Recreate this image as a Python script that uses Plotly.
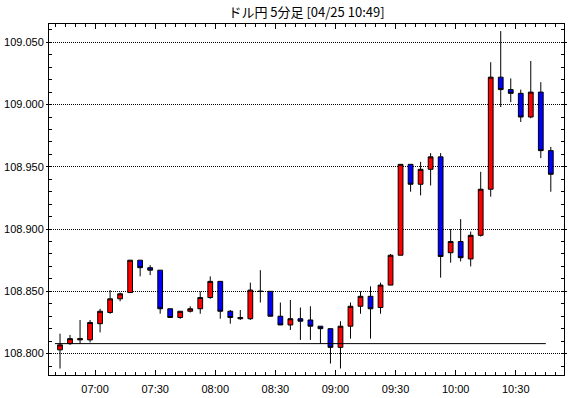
import plotly.graph_objects as go
import pandas as pd

TITLE = "ドル円 5分足 [04/25 10:49]"
DATE = "2019-04-25"
START_TIME = "06:40"
N_BARS = 50

opens = [108.803, 108.808, 108.811, 108.811, 108.824, 108.833, 108.844, 108.849, 108.875, 108.869,
         108.867, 108.836, 108.829, 108.834, 108.836, 108.845, 108.858, 108.834, 108.828, 108.828,
         108.850, 108.850, 108.830, 108.823, 108.828, 108.827, 108.822, 108.820, 108.805, 108.822,
         108.838, 108.846, 108.837, 108.855, 108.879, 108.952, 108.936, 108.948, 108.958, 108.881,
         108.890, 108.876, 108.895, 108.932, 109.022, 109.012, 109.009, 108.990, 109.010, 108.963]
highs = [108.816, 108.815, 108.827, 108.827, 108.836, 108.851, 108.849, 108.875, 108.875, 108.871,
         108.867, 108.836, 108.834, 108.838, 108.850, 108.862, 108.858, 108.835, 108.835, 108.857,
         108.867, 108.850, 108.841, 108.843, 108.837, 108.838, 108.822, 108.820, 108.826, 108.841,
         108.850, 108.854, 108.857, 108.880, 108.952, 108.952, 108.954, 108.961, 108.961, 108.900,
         108.908, 108.898, 108.946, 109.034, 109.059, 109.021, 109.012, 109.035, 109.018, 108.966]
lows = [108.788, 108.807, 108.808, 108.809, 108.817, 108.832, 108.842, 108.849, 108.862, 108.863,
        108.832, 108.829, 108.828, 108.833, 108.832, 108.844, 108.828, 108.824, 108.827, 108.827,
        108.841, 108.830, 108.823, 108.819, 108.811, 108.811, 108.808, 108.792, 108.788, 108.812,
        108.832, 108.812, 108.832, 108.855, 108.879, 108.930, 108.927, 108.935, 108.861, 108.873,
        108.874, 108.870, 108.894, 108.926, 108.998, 109.002, 108.986, 108.989, 108.957, 108.930]
closes = [108.807, 108.812, 108.812, 108.825, 108.834, 108.844, 108.848, 108.875, 108.869, 108.867,
          108.836, 108.829, 108.834, 108.836, 108.845, 108.858, 108.834, 108.829, 108.829, 108.851,
          108.850, 108.830, 108.823, 108.828, 108.826, 108.822, 108.820, 108.805, 108.822, 108.838,
          108.846, 108.836, 108.855, 108.879, 108.952, 108.936, 108.948, 108.958, 108.878, 108.890,
          108.877, 108.895, 108.932, 109.022, 109.012, 109.009, 108.990, 109.010, 108.963, 108.944]

REF_PRICE = 108.808

Y_TICKS = [108.800, 108.850, 108.900, 108.950, 109.000, 109.050]
Y_TICK_LABELS = ["108.800", "108.850", "108.900", "108.950", "109.000", "109.050"]
X_TICK_TIMES = ["07:00", "07:30", "08:00", "08:30", "09:00", "09:30", "10:00", "10:30"]

times = pd.date_range(f"{DATE} {START_TIME}", periods=N_BARS, freq="5min")
x_ticks = [pd.Timestamp(f"{DATE} {t}") for t in X_TICK_TIMES]

fig = go.Figure()
fig.add_trace(go.Candlestick(
    x=times, open=opens, high=highs, low=lows, close=closes,
    xperiod=300000, xperiodalignment="middle",
    increasing=dict(fillcolor="#ff0000", line=dict(color="black", width=1)),
    decreasing=dict(fillcolor="#0000ff", line=dict(color="black", width=1)),
    whiskerwidth=0, showlegend=False, hoverinfo="skip",
))
fig.add_trace(go.Scatter(
    x=[times[0], times[-1]], y=[REF_PRICE, REF_PRICE], mode="lines",
    line=dict(color="black", width=1), showlegend=False, hoverinfo="skip",
))

tick_font = dict(family="Liberation Sans", size=11, color="black")

fig.update_layout(
    width=570, height=398,
    margin=dict(l=49, r=6, t=24, b=23),
    paper_bgcolor="white", plot_bgcolor="white",
    boxgap=0.32,
    title=dict(text=TITLE, font=dict(family="Noto Sans CJK JP", size=13, color="black"),
               x=0.5, xref="paper", xanchor="center", y=1 - 12 / 398, yref="container",
               yanchor="middle"),
    xaxis=dict(
        range=[pd.Timestamp(f"{DATE} 06:37:00"), pd.Timestamp(f"{DATE} 10:54:05")],
        rangeslider=dict(visible=False), automargin=False,
        tickvals=x_ticks, tickformat="%H:%M", tickfont=tick_font,
        ticks="inside", ticklen=5, tickcolor="black", tickwidth=1,
        minor=dict(dtick=300000, tick0=f"{DATE} 07:00", ticks="inside", ticklen=3,
                   tickcolor="black", tickwidth=1, showgrid=False),
        showline=True, linecolor="black", linewidth=1, mirror="ticks",
        showgrid=False, zeroline=False, ticklabelstandoff=4,
    ),
    yaxis=dict(
        range=[108.7828, 109.0647], automargin=False,
        tickvals=Y_TICKS, ticktext=Y_TICK_LABELS, tickfont=tick_font,
        ticks="outside", ticklen=2, tickcolor="black", tickwidth=1,
        minor=dict(dtick=0.01, tick0=108.8, ticks="inside", ticklen=3,
                   tickcolor="black", tickwidth=1, showgrid=False),
        showline=True, linecolor="black", linewidth=1, mirror="ticks",
        showgrid=True, gridcolor="black", griddash="1px,1px", gridwidth=1,
        zeroline=False, ticklabelstandoff=0,
    ),
)

fig.write_html("out.html", config={"displayModeBar": False},
               post_script="document.body.style.margin='0';document.body.style.overflow='hidden';")
